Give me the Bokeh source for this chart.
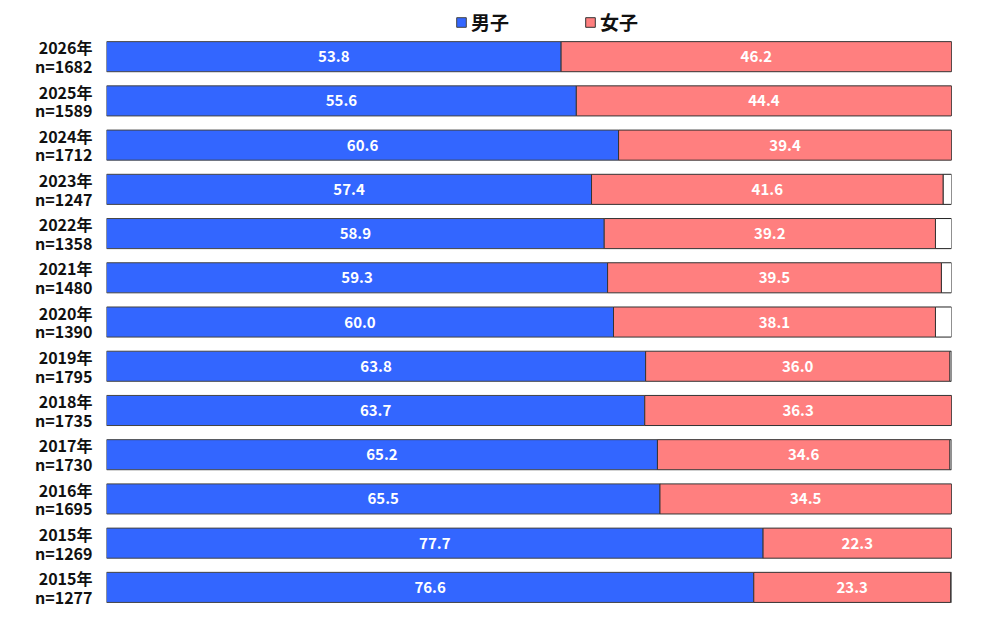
from bokeh.plotting import figure
from bokeh.models import ColumnDataSource, Range1d, FixedTicker, Legend, LegendItem
from bokeh.core.properties import value
from bokeh.embed import file_html
from bokeh.resources import INLINE

years = ["2026年", "2025年", "2024年", "2023年", "2022年", "2021年", "2020年",
         "2019年", "2018年", "2017年", "2016年", "2015年", "2015年"]
n_values = [1682, 1589, 1712, 1247, 1358, 1480, 1390, 1795, 1735, 1730, 1695, 1269, 1277]
male = [53.8, 55.6, 60.6, 57.4, 58.9, 59.3, 60.0, 63.8, 63.7, 65.2, 65.5, 77.7, 76.6]
female = [46.2, 44.4, 39.4, 41.6, 39.2, 39.5, 38.1, 36.0, 36.3, 34.6, 34.5, 22.3, 23.3]
series_names = ["男子", "女子"]

BLUE = "#3366FF"
PINK = "#FF7F7F"
FONT = "Noto Sans CJK JP"

idx = list(range(len(years)))
m_end = male
f_end = [m + f for m, f in zip(male, female)]

src = ColumnDataSource(dict(
    y=idx,
    m0=[0] * len(idx), m1=m_end,
    f0=m_end, f1=f_end,
    o1=[100] * len(idx),
    mx=[m / 2 for m in male],
    fx=[m + f / 2 for m, f in zip(male, female)],
    mt=[f"{v:.1f}" for v in male],
    ft=[f"{v:.1f}" for v in female],
))

p = figure(width=984, height=612, output_backend="svg", toolbar_location=None,
           x_range=Range1d(0, 100), y_range=Range1d(12.5, -1.27),
           min_border_left=106, min_border_right=33, min_border_top=0, min_border_bottom=3)
p.outline_line_color = None
p.xgrid.visible = False
p.ygrid.visible = False
p.xaxis.visible = False

H = 0.68
p.hbar(y="y", left="f1", right="o1", height=H, source=src, fill_color="white",
       line_color="#222222", line_width=1)
rm = p.hbar(y="y", left="m0", right="m1", height=H, source=src, fill_color=BLUE,
            line_color="#444444", line_width=1)
rf = p.hbar(y="y", left="f0", right="f1", height=H, source=src, fill_color=PINK,
            line_color="#333333", line_width=1)

p.text(x="mx", y="y", text="mt", source=src, text_color="white",
       text_font=value(FONT), text_font_style="bold", text_font_size="15px",
       text_align="center", text_baseline="middle")
p.text(x="fx", y="y", text="ft", source=src, text_color="white",
       text_font=value(FONT), text_font_style="bold", text_font_size="15px",
       text_align="center", text_baseline="middle")

ax = p.yaxis[0]
ax.ticker = FixedTicker(ticks=idx)
ax.major_label_overrides = {i: f"{y}\nn={n}" for i, y, n in zip(idx, years, n_values)}
ax.axis_line_color = None
ax.major_tick_line_color = None
ax.minor_tick_line_color = None
ax.major_label_standoff = 8
ax.major_label_text_font = FONT
ax.major_label_text_font_style = "bold"
ax.major_label_text_font_size = "16px"
ax.major_label_text_line_height = 0.78
ax.major_label_text_color = "#111111"

legend = Legend(items=[LegendItem(label=series_names[0], renderers=[rm]),
                       LegendItem(label=series_names[1], renderers=[rf])],
                orientation="horizontal", location=(349, 574),
                glyph_width=12, glyph_height=12, label_standoff=4, spacing=75,
                padding=0, margin=0, border_line_color=None, background_fill_alpha=0,
                label_text_font=FONT, label_text_font_style="bold",
                label_text_font_size="19px", label_text_color="#111111")
p.add_layout(legend, "center")

open("out.html", "w").write(file_html(p, INLINE))
